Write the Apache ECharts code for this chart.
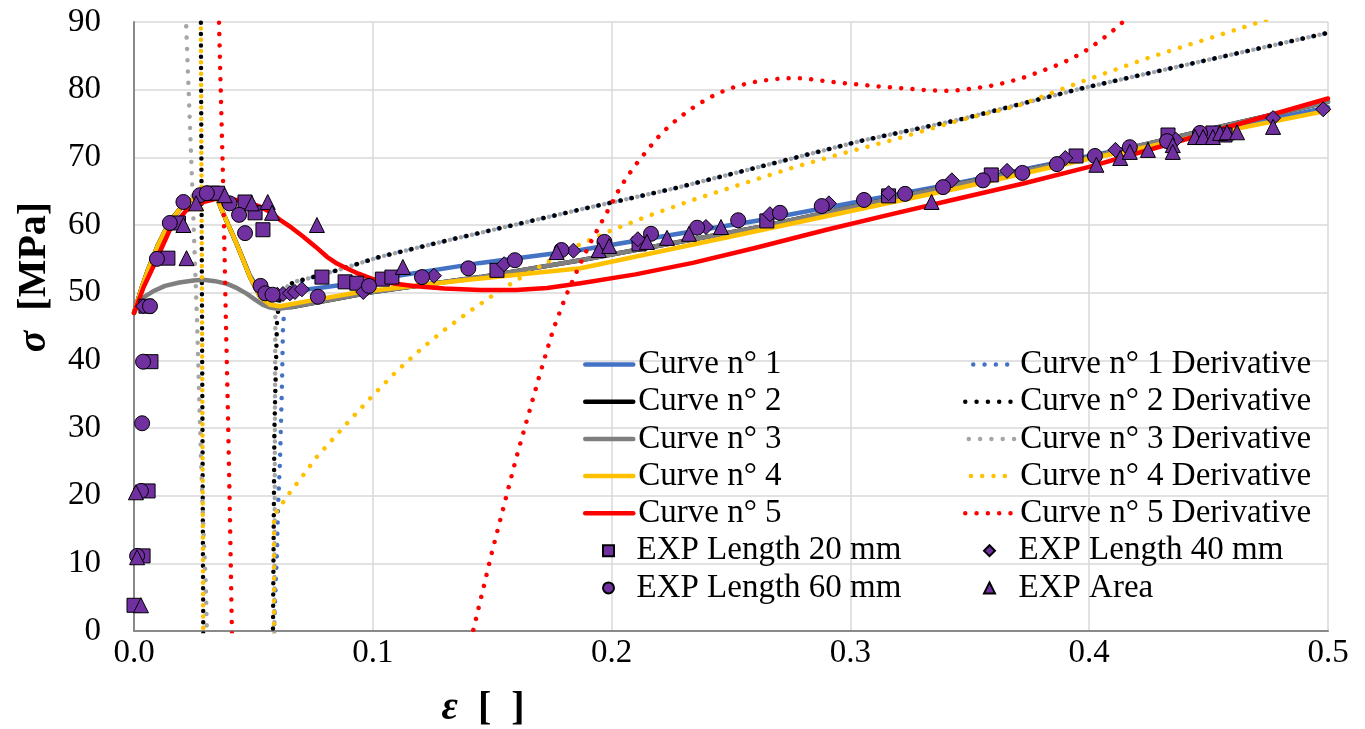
<!DOCTYPE html>
<html>
<head>
<meta charset="utf-8">
<title>True stress-strain curves</title>
<script src="https://cdn.jsdelivr.net/npm/echarts@6/dist/echarts.min.js"></script>
<style>
  html, body { margin: 0; padding: 0; background: #fff; }
  #chart { width: 1365px; height: 729px; }
</style>
</head>
<body>
<div id="chart"></div>
<script>
// Axis ranges (strain ε, stress σ in MPa)
const X_MIN = 0, X_MAX = 0.5, X_STEP = 0.1;
const Y_MIN = 0, Y_MAX = 90, Y_STEP = 10;

// Series names as shown in the legend
const curveNames = ['Curve n° 1', 'Curve n° 2', 'Curve n° 3', 'Curve n° 4', 'Curve n° 5'];
const derivNames = ['Curve n° 1 Derivative', 'Curve n° 2 Derivative', 'Curve n° 3 Derivative',
                    'Curve n° 4 Derivative', 'Curve n° 5 Derivative'];
const expNames = ['EXP Length 20 mm', 'EXP Length 40 mm', 'EXP Length 60 mm', 'EXP Area'];

// Fitted stress curves [strain, stress]
const curve1 = [[0, 47], [0.003, 50.5], [0.006, 53.5], [0.01, 57.0], [0.015, 60.5], [0.02, 62.7],
  [0.025, 63.9], [0.028, 64.3], [0.032, 64.5], [0.035, 63.8], [0.037, 62.0], [0.04, 59.6],
  [0.043, 57.2], [0.0486, 52.5], [0.0528, 50.2], [0.057, 49.5], [0.062, 49.8], [0.071, 50.4],
  [0.0946, 51.5], [0.1, 51.9], [0.145, 54.4], [0.187, 56.3], [0.262, 60.7], [0.346, 66.3],
  [0.4, 70.2], [0.4535, 73.9], [0.5, 77.4]];
const curve2 = [[0, 47], [0.003, 50.5], [0.006, 53.5], [0.01, 57.0], [0.015, 60.5], [0.02, 62.7],
  [0.025, 63.9], [0.028, 64.3], [0.032, 64.5], [0.035, 63.8], [0.037, 62.0], [0.04, 59.6],
  [0.043, 57.2], [0.0486, 52.3], [0.0528, 49.4], [0.057, 48.2], [0.0611, 47.9], [0.0666, 47.9],
  [0.1, 50.1], [0.145, 52.3], [0.187, 54.8], [0.262, 59.7], [0.346, 66.1], [0.4, 70.0],
  [0.4535, 74.4], [0.5, 78.2]];
const curve3 = [[0, 47], [0.002, 48.4], [0.004, 49.3], [0.008, 50.2], [0.013, 51.0], [0.019, 51.5],
  [0.025, 51.8], [0.029, 51.9], [0.034, 51.7], [0.039, 51.3], [0.043, 50.7], [0.047, 49.9],
  [0.051, 48.9], [0.054, 48.2], [0.057, 47.8], [0.06, 47.6], [0.0666, 47.9], [0.1, 50.1],
  [0.145, 52.3], [0.187, 54.8], [0.262, 59.7], [0.346, 66.1], [0.4, 70.0], [0.4535, 74.4],
  [0.5, 78.2]];
const curve4 = [[0, 47], [0.003, 50.5], [0.006, 53.5], [0.01, 57.0], [0.015, 60.5], [0.02, 62.7],
  [0.025, 63.9], [0.028, 64.3], [0.032, 64.5], [0.035, 63.8], [0.037, 62.0], [0.04, 59.6],
  [0.043, 57.2], [0.0486, 52.3], [0.0528, 49.4], [0.057, 48.2], [0.0611, 48.0], [0.075, 48.9],
  [0.0946, 50.1], [0.14, 51.9], [0.187, 53.6], [0.25, 58.3], [0.346, 65.5], [0.4, 69.8],
  [0.45, 73.4], [0.5, 76.9]];
const curve5 = [[0, 47], [0.004, 50.8], [0.008, 53.8], [0.015, 59.3], [0.022, 62.2], [0.029, 63.4],
  [0.036, 64.0], [0.043, 63.7], [0.048, 63.3], [0.0528, 62.7], [0.057, 61.9], [0.061, 60.8],
  [0.066, 59.6], [0.0708, 58.3], [0.076, 56.8], [0.0808, 55.3], [0.085, 54.3], [0.089, 53.6],
  [0.094, 52.8], [0.1, 52.0], [0.108, 51.4], [0.117, 51.0], [0.13, 50.6], [0.145, 50.4],
  [0.16, 50.4], [0.173, 50.7], [0.187, 51.4], [0.21, 52.7], [0.234, 54.4], [0.26, 56.6],
  [0.29, 59.3], [0.316, 61.5], [0.344, 63.8], [0.372, 66.1], [0.4, 68.6], [0.427, 71.3],
  [0.4535, 74.0], [0.5, 78.7]];

// Derivative curves (they run off the top and bottom of the plot)
const derivTail = [[0.0729, 52.1], [0.085, 53.3], [0.103, 55.3], [0.131, 57.7], [0.159, 60.0],
  [0.187, 62.3], [0.225, 65.3], [0.262, 68.6], [0.304, 72.4], [0.346, 75.6], [0.397, 80.2],
  [0.4535, 84.7], [0.5, 88.4]];
const deriv1Head = [[0.05, -20], [0.0586, 0], [0.0599, 12], [0.0603, 18.3], [0.0611, 24.8],
  [0.062, 36.8], [0.0624, 45.2], [0.0632, 48], [0.065, 50.2], [0.068, 51.4]];
const deriv2Head = [[0.0279, 130], [0.028, 90], [0.0285, 45], [0.029, 0], [0.0291, -20],
  [0.0578, -20], [0.0582, 0], [0.0588, 30], [0.0599, 46], [0.0612, 49.6], [0.064, 51.0], [0.068, 51.7]];
const deriv3Head = [[0.0214, 130], [0.0218, 90], [0.0243, 66.6], [0.0264, 46], [0.0272, 36],
  [0.028, 26.3], [0.0289, 16.4], [0.0301, 6.5], [0.0305, 0], [0.0307, -20], [0.0582, -20],
  [0.0588, 0], [0.059, 30], [0.0592, 46.4], [0.0612, 49.8], [0.065, 51.2], [0.069, 51.8]];
const deriv4 = [[0.0279, 130], [0.028, 90], [0.0285, 45], [0.029, 0], [0.0291, -20], [0.0582, -20],
  [0.0586, 0], [0.0586, 17.1], [0.0616, 18.6], [0.0645, 20.1], [0.0704, 22.8], [0.0762, 25.6],
  [0.09, 31.0], [0.10, 34.8], [0.11, 38.4], [0.12, 41.6], [0.13, 44.5], [0.14, 47.1], [0.149, 49.3],
  [0.16, 51.8], [0.173, 54.5], [0.186, 57.0], [0.1985, 59.0], [0.215, 61.3], [0.234, 63.7],
  [0.261, 66.8], [0.276, 68.5], [0.297, 70.6], [0.318, 72.6], [0.345, 75.4], [0.37, 77.6],
  [0.397, 81.2], [0.4255, 84.8], [0.468, 89.6], [0.488, 92.0]];
const deriv5 = [[0.0355, 130], [0.0356, 90], [0.0373, 66.6], [0.0385, 45.5], [0.0394, 31.2],
  [0.0402, 16.4], [0.041, 0], [0.0412, -20], [0.1415, -20], [0.142, 0], [0.15, 11.8], [0.16, 25.5],
  [0.17, 38], [0.1755, 44.5], [0.1805, 49.2], [0.186, 53.6], [0.191, 57.3], [0.1993, 62.7],
  [0.2035, 65.5], [0.209, 68.4], [0.215, 71.1], [0.221, 73.6], [0.228, 75.8], [0.2355, 77.7],
  [0.244, 79.4], [0.253, 80.6], [0.262, 81.3], [0.272, 81.7], [0.28, 81.7], [0.2956, 81.0],
  [0.3145, 80.4], [0.333, 79.9], [0.3425, 79.8], [0.352, 80.2], [0.361, 80.7], [0.371, 81.6],
  [0.379, 82.6], [0.3886, 83.9], [0.397, 85.4], [0.4045, 87.2], [0.412, 89.3], [0.42, 92]];
const deriv1 = deriv1Head.concat(derivTail);
const deriv2 = deriv2Head.concat(derivTail);
const deriv3 = deriv3Head.concat(derivTail);

// Experimental points [strain, stress]
const exp20 = [[0.0, 3.8], [0.0038, 11.1], [0.0059, 20.7], [0.0071, 39.8], [0.005, 48.0],
  [0.0142, 55.1], [0.0186, 60.3], [0.033, 64.7], [0.035, 64.7], [0.0465, 63.4], [0.0507, 61.8],
  [0.054, 59.3], [0.0787, 52.3], [0.0884, 51.6], [0.0933, 51.4], [0.104, 52.0], [0.108, 52.3],
  [0.152, 53.3], [0.2115, 57.2], [0.265, 60.6], [0.316, 64.3], [0.359, 67.4], [0.3945, 70.2],
  [0.433, 73.3], [0.4518, 73.6], [0.4569, 73.3]];
const exp40 = [[0.0038, 48.0], [0.06, 49.7], [0.0624, 49.8], [0.0653, 49.9], [0.0674, 50.1],
  [0.0703, 50.5], [0.096, 50.1], [0.1256, 52.5], [0.155, 54.2], [0.184, 56.2], [0.211, 57.9],
  [0.2395, 59.7], [0.2663, 61.6], [0.291, 63.2], [0.316, 64.7], [0.3425, 66.6], [0.3656, 68.0],
  [0.39, 69.9], [0.411, 71.1], [0.4363, 72.6], [0.477, 75.8], [0.498, 77.1]];
const exp60 = [[0.0013, 11.1], [0.0029, 20.7], [0.0034, 30.7], [0.0038, 39.8], [0.0067, 48.0],
  [0.0096, 55.0], [0.015, 60.3], [0.0207, 63.4], [0.0276, 64.4], [0.0305, 64.7], [0.040, 63.2],
  [0.044, 61.5], [0.0465, 58.8], [0.053, 51.0], [0.055, 49.9], [0.058, 49.7], [0.077, 49.4],
  [0.0984, 51.0], [0.1206, 52.3], [0.140, 53.6], [0.1595, 54.8], [0.179, 56.3], [0.197, 57.5],
  [0.2165, 58.7], [0.2358, 59.6], [0.253, 60.7], [0.2705, 61.8], [0.288, 62.8], [0.3057, 63.7],
  [0.3229, 64.6], [0.3388, 65.6], [0.3555, 66.6], [0.372, 67.7], [0.3865, 69.0], [0.4024, 70.2],
  [0.417, 71.5], [0.4326, 72.4], [0.4464, 73.6]];
const expArea = [[0.0029, 3.8], [0.0013, 10.9], [0.0008, 20.5], [0.022, 55.1], [0.0207, 60.0],
  [0.026, 63.2], [0.038, 64.4], [0.0494, 63.2], [0.056, 63.4], [0.0578, 61.8], [0.0766, 60.0],
  [0.1126, 53.8], [0.177, 56.0], [0.1946, 56.3], [0.199, 56.9], [0.2148, 57.5], [0.2232, 58.1],
  [0.2324, 58.7], [0.2458, 59.7], [0.334, 63.4], [0.403, 68.9], [0.413, 69.9], [0.417, 70.8],
  [0.4246, 71.1], [0.435, 71.8], [0.435, 70.8], [0.4443, 73.0], [0.4477, 73.0], [0.4518, 73.0],
  [0.4548, 73.6], [0.4577, 73.7], [0.4619, 73.7], [0.477, 74.5]];

const curves = [curve1, curve2, curve3, curve4, curve5];
const derivs = [deriv1, deriv2, deriv3, deriv4, deriv5];
const exps = [exp20, exp40, exp60, expArea];

const curveColors = ['#4472C4', '#000000', '#7F7F7F', '#FFC000', '#FF0000'];
const derivColors = ['#4472C4', '#000000', '#A5A5A5', '#FFC000', '#FF0000'];
const expSymbols = ['rect', 'diamond', 'circle', 'triangle'];
const expSizes = [14, 15, 15, 15];

const FONT = '"Liberation Serif", "Times New Roman", serif';
const DOT = 11.3;      // dot spacing of the dotted derivative lines, px
const LINE_W = 4.5;

function buildSeries(dashOffsets) {
  const out = [];
  for (let i = 0; i < 5; i++) {
    out.push({
      name: curveNames[i], type: 'line', data: curves[i], symbol: 'none',
      lineStyle: { color: curveColors[i], width: LINE_W, cap: 'round', join: 'round' },
      itemStyle: { color: curveColors[i] }
    });
    out.push({
      name: derivNames[i], type: 'line', data: derivs[i], symbol: 'none',
      lineStyle: { color: derivColors[i], width: LINE_W, type: [0.01, DOT], cap: 'round',
                   dashOffset: dashOffsets[i] },
      itemStyle: { color: derivColors[i] }
    });
  }
  for (let i = 0; i < 4; i++) {
    out.push({
      name: expNames[i], type: 'scatter', data: exps[i], symbol: expSymbols[i],
      symbolSize: expSizes[i], z: 5,
      itemStyle: { color: '#7030A0', borderColor: '#000', borderWidth: 1, opacity: 1 }
    });
  }
  return out;
}

const textStyle = { fontFamily: FONT, fontSize: 33, color: '#000', lineHeight: 37 };
const lineLegendItem = name => ({ name, itemStyle: { opacity: 0 }, lineStyle: { width: LINE_W } });
const legendBase = { orient: 'vertical', padding: 0, itemGap: 0.2, selectedMode: false };

const chart = echarts.init(document.getElementById('chart'), null, { renderer: 'canvas' });
chart.setOption({
  animation: false,
  backgroundColor: '#fff',
  grid: { left: 134, right: 37, top: 22, bottom: 98, containLabel: false },
  xAxis: {
    type: 'value', min: X_MIN, max: X_MAX, interval: X_STEP,
    axisLine: { lineStyle: { color: '#898989', width: 2 } },
    axisTick: { show: false },
    splitLine: { show: true, lineStyle: { color: '#D9D9D9', width: 1.5 } },
    axisLabel: { fontFamily: FONT, fontSize: 33, color: '#000', margin: 6,
                 formatter: v => v.toFixed(1) }
  },
  yAxis: {
    type: 'value', min: Y_MIN, max: Y_MAX, interval: Y_STEP,
    axisLine: { show: true, lineStyle: { color: '#898989', width: 2 } },
    axisTick: { show: false },
    splitLine: { show: true, lineStyle: { color: '#D9D9D9', width: 1.5 } },
    axisLabel: { fontFamily: FONT, fontSize: 33, color: '#000', margin: 33 }
  },
  legend: [
    Object.assign({}, legendBase, { left: 583, top: 346, itemWidth: 48, itemHeight: 10, textStyle,
      data: curveNames.map(lineLegendItem) }),
    Object.assign({}, legendBase, { left: 963, top: 346, itemWidth: 50, itemHeight: 10, textStyle,
      data: derivNames.map(lineLegendItem) }),
    Object.assign({}, legendBase, { left: 602, top: 532.2, itemWidth: 11, itemHeight: 11,
      textStyle: Object.assign({ padding: [0, 0, 0, 17.5] }, textStyle),
      data: [expNames[0], expNames[2]] }),
    Object.assign({}, legendBase, { left: 983, top: 532.2, itemWidth: 11, itemHeight: 11,
      textStyle: Object.assign({ padding: [0, 0, 0, 18.5] }, textStyle),
      data: [expNames[1], expNames[3]] })
  ],
  graphic: [
    {
      type: 'text', x: 35, y: 277, rotation: Math.PI / 2,
      style: {
        text: '{s|σ}{b|  [MPa]}', textAlign: 'center', textVerticalAlign: 'middle',
        rich: {
          s: { fontFamily: FONT, fontSize: 40, fontWeight: 'bold', fontStyle: 'italic', fill: '#000' },
          b: { fontFamily: FONT, fontSize: 40, fontWeight: 'bold', fill: '#000' }
        }
      }
    },
    {
      type: 'text', x: 483, y: 709,
      style: {
        text: '{s|ε}{b|  [  ]}', textAlign: 'center', textVerticalAlign: 'middle',
        rich: {
          s: { fontFamily: FONT, fontSize: 40, fontWeight: 'bold', fontStyle: 'italic', fill: '#000' },
          b: { fontFamily: FONT, fontSize: 40, fontWeight: 'bold', fill: '#000' }
        }
      }
    }
  ],
  series: buildSeries([0, 0, 0, DOT / 2, 0])
});

// Phase the dotted lines that share the common upper branch so that the
// black and grey dots alternate there and the blue dots sit under the black ones.
function pixelLength(points) {
  let len = 0;
  for (let k = 1; k < points.length; k++) {
    const a = chart.convertToPixel({ gridIndex: 0 }, points[k - 1]);
    const b = chart.convertToPixel({ gridIndex: 0 }, points[k]);
    len += Math.hypot(b[0] - a[0], b[1] - a[1]);
  }
  return len;
}
const mod = v => ((v % DOT) + DOT) % DOT;
const tailStart = h => h.concat([derivTail[0]]);
const L1 = pixelLength(tailStart(deriv1Head));
const L2 = pixelLength(tailStart(deriv2Head));
const L3 = pixelLength(tailStart(deriv3Head));
chart.setOption({ series: buildSeries([mod(L2 - L1), 0, mod(L2 - L3 + DOT / 2), DOT / 2, 0]) });
</script>
</body>
</html>
